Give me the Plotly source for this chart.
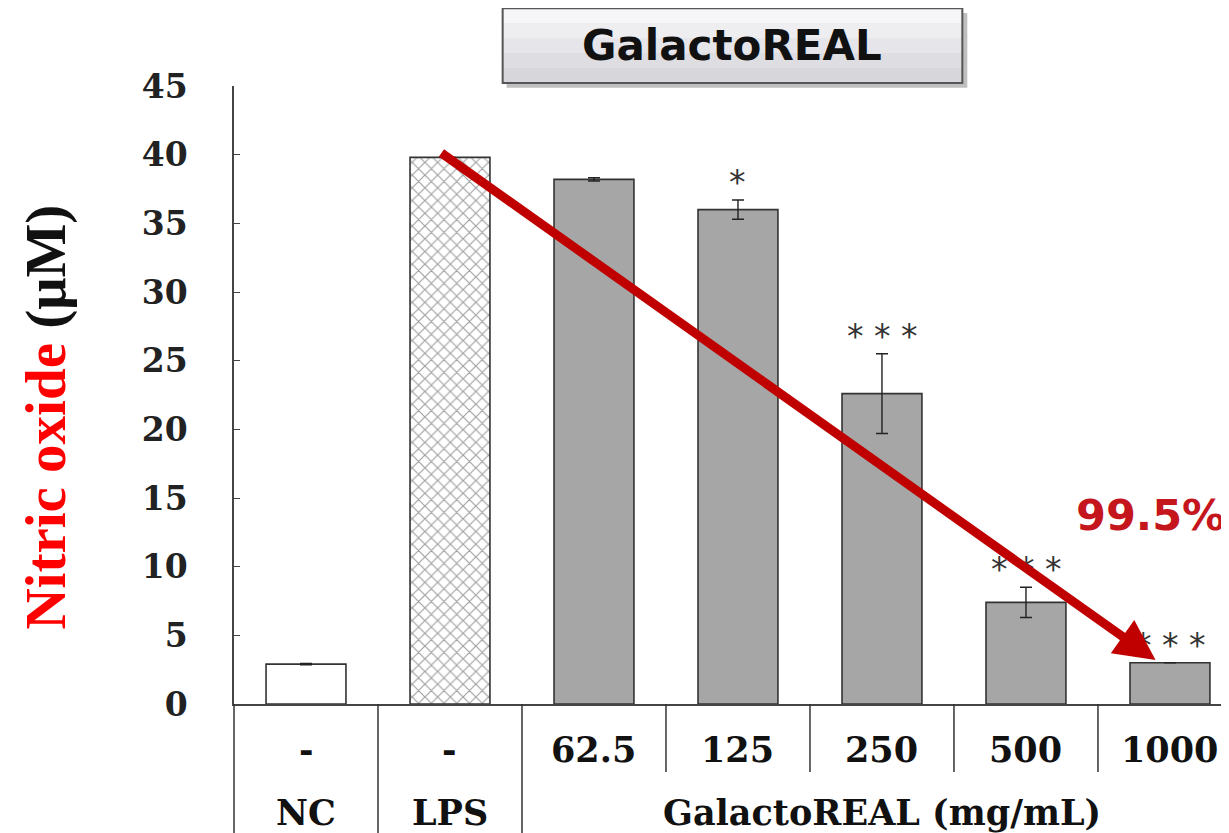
import plotly.graph_objects as go

# ---- data ----
groups = ["NC", "LPS", "62.5", "125", "250", "500", "1000"]
dose_labels = ["-", "-", "62.5", "125", "250", "500", "1000"]
group_labels = ["NC", "LPS", "GalactoREAL (mg/mL)"]
no_values = [2.9, 39.8, 38.2, 36.0, 22.6, 7.4, 3.0]
no_errors = [0.05, 0.0, 0.12, 0.7, 2.9, 1.1, 0.0]
significance = ["", "", "", "*", "* * *", "* * *", "* * *"]
y_ticks = [0, 5, 10, 15, 20, 25, 30, 35, 40, 45]
inhibition_text = "99.5%"
title_text = "GalactoREAL"

x_idx = list(range(len(groups)))
fills = ["white", "white"] + ["#a6a6a6"] * 5
patterns = ["", "x"] + [""] * 5

fig = go.Figure()
fig.add_trace(go.Bar(
    x=x_idx, y=no_values, width=0.555,
    marker=dict(color=fills, line=dict(color="#333333", width=1.6),
                pattern=dict(shape=patterns, fgcolor="#b0b0b0", bgcolor="white",
                             size=9, solidity=0.25)),
    error_y=dict(type="data", array=no_errors, visible=True, color="#222222",
                 thickness=1.4, width=6),
    showlegend=False, hoverinfo="skip",
))

serif = "DejaVu Serif"
ann = []
# significance stars
for i, s in enumerate(significance):
    if s:
        ann.append(dict(x=i, y=no_values[i] + no_errors[i], xref="x", yref="y",
                        text=s, showarrow=False, yanchor="bottom", yshift=-4,
                        font=dict(family="DejaVu Sans", size=33, color="#333333")))
# table row 1 (doses)
for i, t in enumerate(dose_labels):
    ann.append(dict(x=i, y=-0.074, xref="x", yref="paper", text=t,
                    xanchor="center", yanchor="middle", showarrow=False,
                    font=dict(family=serif, size=35, color="#111111", weight="bold")))
# table row 2 (groups)
for xpos, t in zip([0, 1, 4], group_labels):
    ann.append(dict(x=xpos, y=-0.175, xref="x", yref="paper", text=t,
                    xanchor="center", yanchor="middle", showarrow=False,
                    font=dict(family=serif, size=35, color="#111111", weight="bold")))
# y-axis title
ann.append(dict(x=-0.189, y=0.465, xref="paper", yref="paper", textangle=-90,
                xanchor="center", yanchor="middle",
                text="<span style='color:#ff0000'>Nitric oxide</span> (μM)",
                showarrow=False,
                font=dict(family="Liberation Serif", size=57, color="#111111", weight="bold")))
# trend arrow
ann.append(dict(x=5.90, y=3.2, ax=0.93, ay=40.2, xref="x", yref="y", axref="x", ayref="y",
                text="", showarrow=True, arrowhead=2, arrowsize=0.9, arrowwidth=9,
                arrowcolor="#c00000"))
# percentage
ann.append(dict(x=0.998, y=0.306, xref="paper", yref="paper", xanchor="right",
                yanchor="middle", text=inhibition_text, showarrow=False,
                font=dict(family="DejaVu Sans", size=43, color="#c4161c", weight="bold")))
# title
ann.append(dict(x=0.501, y=1.066, xref="paper", yref="paper", text=title_text,
                xanchor="center", yanchor="middle", showarrow=False,
                font=dict(family="DejaVu Sans", size=42, color="#111111", weight="bold")))

shapes = []
# title box: shadow + gradient bands + border
shapes.append(dict(type="rect", xref="paper", yref="paper", x0=0.274, x1=0.737,
                   y0=0.997, y1=1.118, fillcolor="rgba(0,0,0,0.25)", line=dict(width=0)))
bands = ["#f6f6f8", "#eeeef1", "#e6e6ea", "#dedee2", "#d6d6db"]
y_top, y_bot = 1.126, 1.005
h = (y_top - y_bot) / len(bands)
for k, c in enumerate(bands):
    shapes.append(dict(type="rect", xref="paper", yref="paper", x0=0.270, x1=0.732,
                       y0=y_top - (k + 1) * h, y1=y_top - k * h, fillcolor=c,
                       line=dict(width=0)))
shapes.append(dict(type="rect", xref="paper", yref="paper", x0=0.270, x1=0.732,
                   y0=y_bot, y1=y_top, line=dict(color="#555555", width=2)))
# table lines
shapes.append(dict(type="line", xref="paper", yref="paper", x0=0, x1=0, y0=0, y1=-0.22,
                   line=dict(color="#333333", width=1.5)))
for b in [0.5, 1.5]:
    shapes.append(dict(type="line", xref="x", yref="paper", x0=b, x1=b, y0=0, y1=-0.22,
                       line=dict(color="#333333", width=1.5)))
for b in [2.5, 3.5, 4.5, 5.5]:
    shapes.append(dict(type="line", xref="x", yref="paper", x0=b, x1=b, y0=0, y1=-0.11,
                       line=dict(color="#333333", width=1.5)))

fig.update_layout(
    width=1221, height=825,
    margin=dict(l=226, r=0, t=78, b=129),
    paper_bgcolor="white", plot_bgcolor="white",
    annotations=ann, shapes=shapes,
    xaxis=dict(range=[-0.5, 6.41], showticklabels=False, ticks="", showgrid=False,
               zeroline=False, showline=True, linecolor="#444444", linewidth=2),
    yaxis=dict(range=[0, 45], tickvals=y_ticks, ticks="inside", ticklen=6,
               tickcolor="#444444", showgrid=False, zeroline=False, showline=True,
               linecolor="#444444", linewidth=1.5, ticklabelstandoff=38,
               tickfont=dict(family=serif, size=33, color="#222222", weight="bold")),
)

fig.write_html("out.html")
